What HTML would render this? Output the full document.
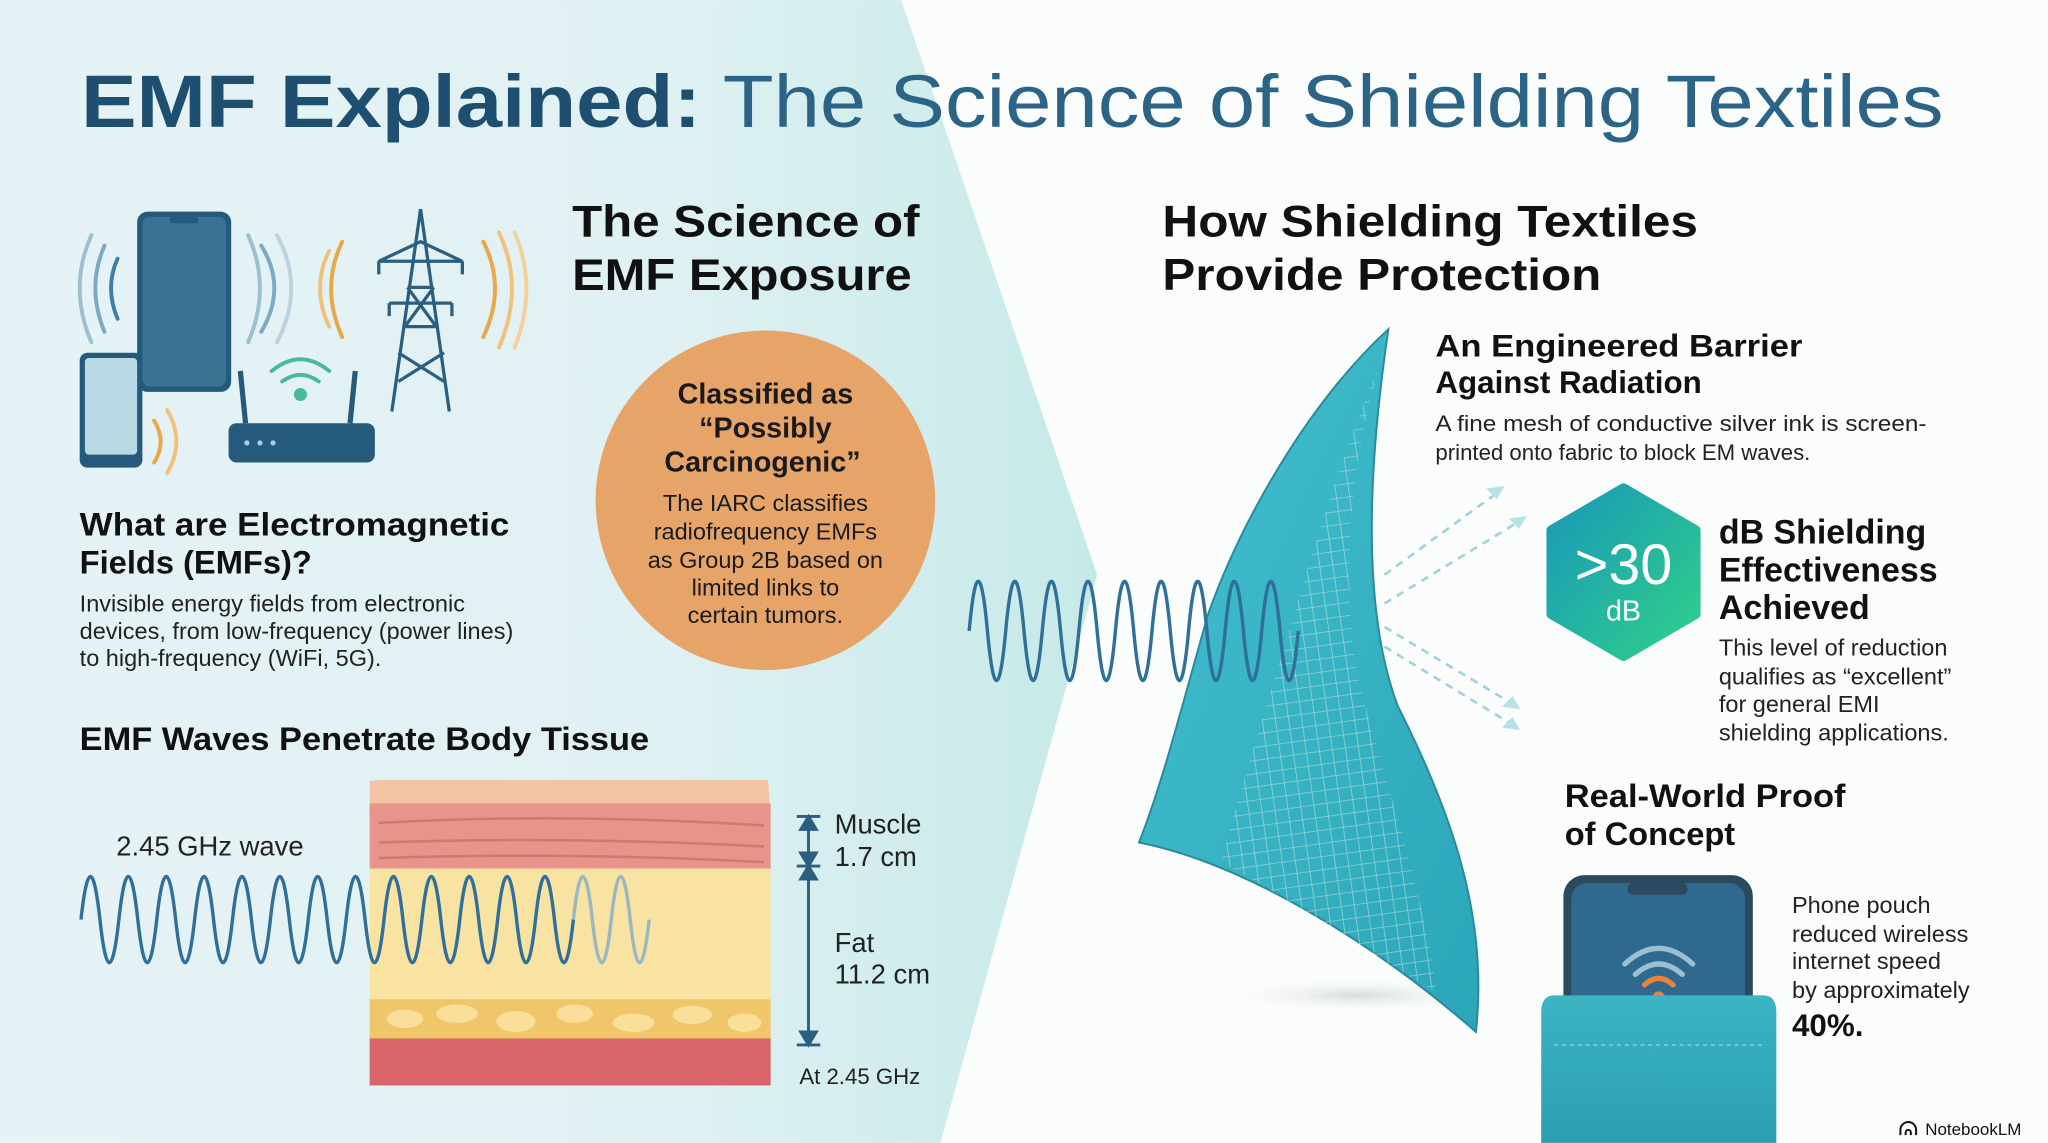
<!DOCTYPE html>
<html><head><meta charset="utf-8"><style>html,body{margin:0;padding:0;background:#fbfdfd}svg{display:block}</style></head>
<body>
<svg width="2048" height="1143" viewBox="0 0 1568 875" xmlns="http://www.w3.org/2000/svg" font-family="Liberation Sans, sans-serif">
<defs>
<linearGradient id="bgL" x1="0" y1="0" x2="1" y2="0"><stop offset="0" stop-color="#e6f2f6"/><stop offset="0.6" stop-color="#e0f1f3"/><stop offset="1" stop-color="#c6e9e8"/></linearGradient>
<linearGradient id="hex" x1="0" y1="0" x2="1" y2="1"><stop offset="0" stop-color="#1a98b8"/><stop offset="1" stop-color="#2fd08a"/></linearGradient>
<linearGradient id="fab" x1="0" y1="0" x2="1" y2="1"><stop offset="0" stop-color="#44c0cf"/><stop offset="1" stop-color="#2aa6b8"/></linearGradient>
<linearGradient id="pouch" x1="0" y1="0" x2="0" y2="1"><stop offset="0" stop-color="#3cb4c4"/><stop offset="1" stop-color="#2a9fb2"/></linearGradient>
<radialGradient id="sh"><stop offset="0" stop-color="#d8dcdd"/><stop offset="1" stop-color="#fbfdfd" stop-opacity="0"/></radialGradient>
<pattern id="mesh" width="10" height="10" patternUnits="userSpaceOnUse" patternTransform="rotate(-8)"><path d="M0 0H10M0 0V10" stroke="#e8efe8" stroke-width="1.2" opacity="0.55"/></pattern>
</defs>
<rect width="1568" height="875" fill="#fbfdfd"/>
<path d="M0 0H690L840 440L720 875H0Z" fill="url(#bgL)"/>

<text x="62" y="97" font-size="57" fill="#1f4f70" textLength="1426" lengthAdjust="spacingAndGlyphs"><tspan font-weight="bold">EMF Explained:</tspan><tspan fill="#2b6486"> The Science of Shielding Textiles</tspan></text>

<g fill="none" stroke-width="3" stroke-linecap="round">
<path d="M70 180Q52 220 70 262" stroke="#9bc0d0"/><path d="M80 188Q66 220 80 254" stroke="#7aaac4"/><path d="M90 198Q80 220 90 244" stroke="#3f7ea8"/>
<path d="M190 180Q208 220 190 262" stroke="#9bc0d0"/><path d="M200 188Q220 220 200 254" stroke="#7aaac4"/><path d="M212 180Q234 220 212 262" stroke="#bcd3dd"/>
<path d="M262 185Q245 220 262 258" stroke="#e8a84a"/><path d="M252 192Q238 220 252 250" stroke="#f2c07a"/>
<path d="M370 185Q388 220 370 258" stroke="#e8a84a"/><path d="M382 178Q402 220 382 266" stroke="#f2c07a"/><path d="M394 178Q412 220 394 266" stroke="#f5d09a"/>
<path d="M118 322Q128 338 118 354" stroke="#e8a84a"/><path d="M128 314Q142 338 128 362" stroke="#f2c07a"/>
<path d="M208 284Q230 266 252 284" stroke="#4ab8a0"/><path d="M216 292Q230 282 244 292" stroke="#4ab8a0"/>
</g>
<circle cx="230" cy="302" r="5" fill="#4ab8a0"/>
<rect x="105" y="162" width="72" height="138" rx="8" fill="#245a7c"/><rect x="109" y="166" width="64" height="130" rx="6" fill="#3b7396"/><rect x="130" y="166" width="22" height="5" rx="2" fill="#245a7c"/>
<rect x="61" y="270" width="48" height="88" rx="6" fill="#245a7c"/><rect x="65" y="274" width="40" height="74" rx="3" fill="#b9d9e4"/>
<rect x="175" y="324" width="112" height="30" rx="6" fill="#245a7c"/><circle cx="189" cy="339" r="2" fill="#a8cde0"/><circle cx="199" cy="339" r="2" fill="#a8cde0"/><circle cx="209" cy="339" r="2" fill="#a8cde0"/>
<path d="M188 324L184 284M268 324L272 284" stroke="#245a7c" stroke-width="4"/>
<g stroke="#2a5f80" stroke-width="2.5" fill="none"><path d="M322 160L300 315M322 160L344 315M308 250L336 250M312 220L332 220M305 270L340 292M340 270L305 292M312 220L334 250M332 220L310 250"/><path d="M290 200L354 200L322 185ZM298 232L346 232"/><path d="M290 200v10M354 200v10M298 232v10M346 232v10"/></g>

<text font-size="34" font-weight="bold" fill="#111"><tspan x="438" y="181" textLength="266" lengthAdjust="spacingAndGlyphs">The Science of</tspan><tspan x="438" y="222" textLength="260" lengthAdjust="spacingAndGlyphs">EMF Exposure</tspan></text>
<circle cx="586" cy="383" r="130" fill="#e6a468"/>
<text text-anchor="middle" fill="#1a1a1a"><tspan x="586" y="309" font-size="22" font-weight="bold">Classified as</tspan><tspan x="586" y="335" font-size="22" font-weight="bold">“Possibly</tspan><tspan x="586" y="361" font-size="22" font-weight="bold">Carcinogenic”</tspan>
<tspan x="586" y="391" font-size="18">The IARC classifies</tspan><tspan x="586" y="413" font-size="18">radiofrequency EMFs</tspan><tspan x="586" y="435" font-size="18">as Group 2B based on</tspan><tspan x="586" y="456" font-size="18">limited links to</tspan><tspan x="586" y="477" font-size="18">certain tumors.</tspan></text>

<text font-size="25" font-weight="bold" fill="#111"><tspan x="61" y="410" textLength="329" lengthAdjust="spacingAndGlyphs">What are Electromagnetic</tspan><tspan x="61" y="439">Fields (EMFs)?</tspan></text>
<text font-size="18" fill="#222"><tspan x="61" y="468">Invisible energy fields from electronic</tspan><tspan x="61" y="489">devices, from low-frequency (power lines)</tspan><tspan x="61" y="510">to high-frequency (WiFi, 5G).</tspan></text>
<text x="61" y="574" font-size="25" font-weight="bold" fill="#111" textLength="436" lengthAdjust="spacingAndGlyphs">EMF Waves Penetrate Body Tissue</text>
<text x="89" y="655" font-size="21" fill="#222">2.45 GHz wave</text>

<path d="M283 598L290 597H588L590 625H283Z" fill="#f3c3a6"/>
<rect x="283" y="615" width="307" height="50" fill="#e8948c"/>
<path d="M290 630Q430 622 585 632M290 645Q430 640 585 648M290 657Q430 652 585 660" stroke="#d27872" stroke-width="2" fill="none"/>
<rect x="283" y="665" width="307" height="102" fill="#f8e3a2"/>
<rect x="283" y="765" width="307" height="32" fill="#f0c66a"/>
<g fill="#f9df9a"><ellipse cx="310" cy="780" rx="14" ry="7"/><ellipse cx="350" cy="776" rx="16" ry="7"/><ellipse cx="395" cy="782" rx="15" ry="8"/><ellipse cx="440" cy="776" rx="14" ry="7"/><ellipse cx="485" cy="783" rx="16" ry="7"/><ellipse cx="530" cy="777" rx="15" ry="7"/><ellipse cx="570" cy="783" rx="13" ry="7"/></g>
<rect x="283" y="795" width="307" height="36" fill="#d9646a"/>
<g stroke="#2a5f80" stroke-width="2.2" fill="#2a5f80"><path d="M619 625V800"/><path d="M610 625H628M610 663H628M610 800H628"/><path d="M613 635L619 625L625 635ZM613 653L619 663L625 653ZM613 673L619 663L625 673ZM613 790L619 800L625 790Z"/></g>
<text font-size="21" fill="#222"><tspan x="639" y="638">Muscle</tspan><tspan x="639" y="663">1.7 cm</tspan><tspan x="639" y="729">Fat</tspan><tspan x="639" y="753">11.2 cm</tspan></text>
<text x="612" y="830" font-size="17" fill="#222">At 2.45 GHz</text>
<path d="M62 704q7.25 -66 14.5 0t14.5 0t14.5 0t14.5 0t14.5 0t14.5 0t14.5 0t14.5 0t14.5 0t14.5 0t14.5 0t14.5 0t14.5 0t14.5 0t14.5 0t14.5 0t14.5 0t14.5 0t14.5 0t14.5 0t14.5 0t14.5 0t14.5 0t14.5 0t14.5 0t14.5 0" fill="none" stroke="#2f6f9a" stroke-width="2.6"/>
<path d="M439 704q7.25 -66 14.5 0t14.5 0t14.5 0t14.5 0" fill="none" stroke="#9ab8c0" stroke-width="2.6"/>

<text font-size="34" font-weight="bold" fill="#111"><tspan x="890" y="181" textLength="410" lengthAdjust="spacingAndGlyphs">How Shielding Textiles</tspan><tspan x="890" y="222" textLength="336" lengthAdjust="spacingAndGlyphs">Provide Protection</tspan></text>
<ellipse cx="1040" cy="762" rx="110" ry="14" fill="url(#sh)"/>
<path d="M1063 252C1000 310 950 400 925 470C905 540 890 600 872 645C950 660 1050 720 1130 790C1140 700 1110 620 1070 540C1040 460 1050 340 1063 252Z" fill="url(#fab)" stroke="#2a8a9c" stroke-width="1.5"/>
<path d="M1060 270C1030 340 1005 420 985 490C970 540 950 600 935 660C990 690 1050 730 1100 760C1090 680 1060 600 1040 520C1025 440 1035 340 1060 270Z" fill="url(#mesh)"/>
<path d="M742 483q7 -76 14 0t14 0t14 0t14 0t14 0t14 0t14 0t14 0t14 0t14 0t14 0t14 0t14 0t14 0t14 0t14 0t14 0t14 0" fill="none" stroke="#2f6f9a" stroke-width="2.6"/>
<g stroke="#9fd2dc" stroke-width="2" stroke-dasharray="6 5" fill="none"><path d="M1060 440L1148 376"/><path d="M1060 462L1165 398"/><path d="M1060 480L1160 540"/><path d="M1060 495L1160 556"/></g>
<g fill="#b8e0e6"><path d="M1152 372l-14 2l8 8z"/><path d="M1169 395l-14 2l8 8z"/><path d="M1164 543l-14 -2l8 -8z"/><path d="M1164 559l-14 -2l8 -8z"/></g>
<text font-size="24" font-weight="bold" fill="#111"><tspan x="1099" y="273" textLength="281" lengthAdjust="spacingAndGlyphs">An Engineered Barrier</tspan><tspan x="1099" y="301">Against Radiation</tspan></text>
<text font-size="17" fill="#222"><tspan x="1099" y="330" textLength="376" lengthAdjust="spacingAndGlyphs">A fine mesh of conductive silver ink is screen-</tspan><tspan x="1099" y="352">printed onto fabric to block EM waves.</tspan></text>
<path d="M1243 374L1298 406V470L1243 502L1188 470V406Z" fill="url(#hex)" stroke="url(#hex)" stroke-width="8" stroke-linejoin="round"/>
<text x="1243" y="447" font-size="44" fill="#fff" text-anchor="middle">&gt;30</text>
<text x="1243" y="475" font-size="22" fill="#fff" text-anchor="middle">dB</text>
<text font-size="26" font-weight="bold" fill="#111"><tspan x="1316" y="416">dB Shielding</tspan><tspan x="1316" y="445">Effectiveness</tspan><tspan x="1316" y="474">Achieved</tspan></text>
<text font-size="18" fill="#222"><tspan x="1316" y="502">This level of reduction</tspan><tspan x="1316" y="524">qualifies as “excellent”</tspan><tspan x="1316" y="545">for general EMI</tspan><tspan x="1316" y="567">shielding applications.</tspan></text>
<text font-size="25" font-weight="bold" fill="#111"><tspan x="1198" y="618" textLength="215" lengthAdjust="spacingAndGlyphs">Real-World Proof</tspan><tspan x="1198" y="647">of Concept</tspan></text>
<rect x="1197" y="670" width="145" height="180" rx="16" fill="#2c4a5e"/>
<rect x="1203" y="676" width="133" height="180" rx="12" fill="#2f6a8e"/>
<rect x="1246" y="676" width="46" height="9" rx="4" fill="#2c4a5e"/>
<g fill="none" stroke-linecap="round" stroke-width="4"><path d="M1244 738Q1270 714 1296 738" stroke="#9cc0d0"/><path d="M1252 746Q1270 730 1288 746" stroke="#9cc0d0"/><path d="M1259 754Q1270 744 1281 754" stroke="#e8843a"/></g>
<circle cx="1270" cy="764" r="5" fill="#e8843a"/>
<path d="M1180 775Q1180 762 1190 762H1350Q1360 762 1360 775V875H1180Z" fill="url(#pouch)"/>
<path d="M1190 800H1350" stroke="#7fd0da" stroke-width="1.2" stroke-dasharray="3 3"/>
<text font-size="18" fill="#222"><tspan x="1372" y="699">Phone pouch</tspan><tspan x="1372" y="721">reduced wireless</tspan><tspan x="1372" y="742">internet speed</tspan><tspan x="1372" y="764">by approximately</tspan></text>
<text x="1372" y="793" font-size="24" font-weight="bold" fill="#111">40%.</text>
<text x="1474" y="869" font-size="13" fill="#111">NotebookLM</text>
<path d="M1455 869v-4a6 6 0 0 1 12 0v4M1459 869v-2a2 2 0 0 1 4 0v2" stroke="#111" stroke-width="1.5" fill="none"/>
</svg>
</body></html>
